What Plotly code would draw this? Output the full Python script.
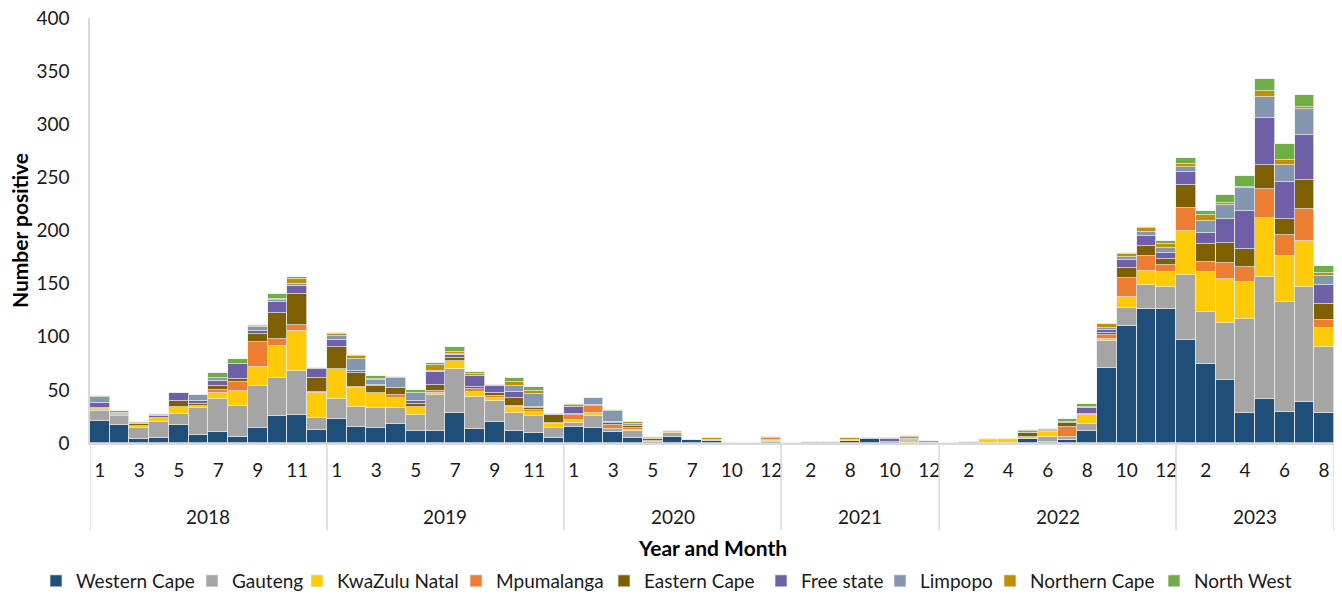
import plotly.graph_objects as go

# ---------------- data ----------------
years = ["2018", "2019", "2020", "2021", "2022", "2023"]
months_2018 = [1, 2, 3, 4, 5, 6, 7, 8, 9, 10, 11, 12]
months_2019 = [1, 2, 3, 4, 5, 6, 7, 8, 9, 10, 11, 12]
months_2020 = [1, 2, 3, 4, 5, 6, 7, 8, 10, 11, 12]
months_2021 = [1, 2, 3, 8, 9, 10, 11, 12]
months_2022 = [1, 2, 3, 4, 5, 6, 7, 8, 9, 10, 11, 12]
months_2023 = [1, 2, 3, 4, 5, 6, 7, 8]
months_by_year = [months_2018, months_2019, months_2020, months_2021, months_2022, months_2023]

western_cape = [21, 17, 4, 5, 17, 8, 10, 6, 14, 25, 26, 12,
                23, 15, 14, 18, 11, 11, 28, 13, 20, 11, 9, 5,
                15, 14, 10, 5, 1, 6, 3, 2, 0, 0, 1,
                0, 0, 0, 2, 4, 1, 0, 0,
                0, 0, 0, 0, 4, 1, 3, 11, 71, 110, 126, 126,
                97, 74, 59, 28, 41, 29, 39, 28]
gauteng = [9, 8, 10, 15, 10, 25, 31, 29, 40, 36, 42, 12,
           18, 19, 19, 15, 15, 34, 42, 30, 20, 17, 16, 9,
           4, 11, 3, 6, 1, 3, 0, 1, 0, 0, 1,
           0, 0, 0, 0, 0, 0, 0, 2,
           0, 0, 0, 0, 0, 5, 3, 7, 25, 17, 23, 21,
           61, 49, 54, 89, 115, 104, 108, 62]
kwazulu_natal = [2, 0, 2, 4, 7, 2, 6, 14, 18, 30, 37, 23,
                 29, 18, 14, 9, 8, 2, 7, 5, 2, 6, 4, 4,
                 3, 3, 0, 1, 0, 1, 0, 0, 0, 0, 1,
                 0, 0, 0, 1, 0, 0, 2, 0,
                 0, 0, 3, 3, 2, 4, 0, 8, 2, 10, 13, 14,
                 42, 38, 41, 35, 56, 43, 43, 18]
mpumalanga = [1, 1, 0, 0, 0, 0, 3, 8, 23, 7, 6, 1,
              0, 1, 0, 3, 0, 2, 0, 3, 2, 1, 2, 1,
              4, 7, 4, 2, 0, 0, 0, 0, 0, 0, 2,
              0, 0, 0, 0, 0, 0, 0, 0,
              0, 0, 0, 0, 0, 1, 9, 1, 4, 18, 14, 7,
              21, 9, 15, 14, 27, 20, 30, 8]
eastern_cape = [0, 1, 2, 0, 6, 2, 4, 3, 8, 24, 29, 13,
                20, 13, 7, 7, 3, 6, 3, 2, 3, 7, 2, 7,
                1, 1, 2, 2, 2, 0, 0, 0, 0, 0, 0,
                0, 0, 0, 0, 0, 0, 1, 0,
                0, 0, 0, 0, 3, 1, 4, 0, 2, 10, 9, 5,
                22, 17, 19, 17, 23, 15, 28, 15]
free_state = [5, 1, 0, 1, 7, 3, 4, 14, 2, 11, 8, 9,
              7, 2, 1, 0, 3, 12, 3, 10, 7, 6, 1, 0,
              7, 0, 1, 0, 0, 1, 0, 0, 0, 0, 0,
              0, 0, 0, 0, 0, 3, 1, 0,
              0, 0, 0, 1, 0, 1, 1, 6, 2, 7, 10, 6,
              12, 11, 23, 35, 44, 35, 42, 18]
limpopo = [5, 2, 1, 1, 0, 5, 3, 0, 4, 2, 2, 1,
           4, 11, 4, 9, 7, 1, 1, 0, 1, 6, 12, 1,
           0, 6, 10, 2, 0, 0, 0, 0, 0, 0, 0,
           0, 1, 1, 0, 1, 1, 2, 0,
           0, 1, 1, 0, 2, 0, 0, 1, 2, 3, 4, 5,
           5, 11, 13, 22, 20, 16, 24, 8]
northern_cape = [0, 0, 0, 0, 0, 0, 0, 0, 1, 1, 4, 0,
                 2, 3, 1, 0, 0, 5, 2, 2, 0, 3, 3, 0,
                 2, 0, 0, 2, 1, 0, 0, 2, 0, 0, 1,
                 0, 0, 0, 2, 0, 0, 1, 0,
                 0, 0, 0, 0, 0, 0, 0, 0, 4, 3, 3, 3,
                 3, 6, 2, 1, 5, 4, 2, 3]
north_west = [1, 0, 1, 1, 0, 0, 5, 5, 1, 4, 2, 0,
              1, 1, 3, 1, 3, 2, 4, 2, 0, 4, 4, 0,
              1, 0, 1, 0, 1, 0, 0, 0, 0, 0, 0,
              0, 0, 0, 0, 0, 0, 0, 0,
              0, 0, 0, 0, 1, 0, 3, 3, 0, 1, 1, 3,
              5, 3, 7, 10, 12, 15, 12, 7]

series_names = ["Western Cape", "Gauteng", "KwaZulu Natal", "Mpumalanga", "Eastern Cape",
                "Free state", "Limpopo", "Northern Cape", "North West"]
series_values = [western_cape, gauteng, kwazulu_natal, mpumalanga, eastern_cape,
                 free_state, limpopo, northern_cape, north_west]

# ---------------- style ----------------
series_colors = ["#1F4E79", "#A5A5A5", "#FFCA08", "#ED7D31", "#7F6000",
                 "#6F5FA6", "#8497B0", "#BF9000", "#70AD47"]
legend_entry_px = [111, 60, 114, 103, 112, 74, 65, 119, 98]   # per-entry legend widths
FONT = "Lato, 'Open Sans', sans-serif"
TXT = "#1a1a1a"

# ---------------- build ----------------
month_labels = [m for ms in months_by_year for m in ms]
positions = list(range(len(month_labels)))

fig = go.Figure()
for name, vals, col, lw in zip(series_names, series_values, series_colors, legend_entry_px):
    fig.add_trace(go.Bar(
        x=positions, y=vals, name=name, legendwidth=lw,
        marker=dict(color=col, line=dict(color="rgba(235,235,235,0.9)", width=0.8)),
    ))

shapes = []
annotations = []
start = 0
sep_bottom = -0.205
for yr, ms in zip(years, months_by_year):
    end = start + len(ms) - 1
    annotations.append(dict(x=(start + end) / 2, y=-0.174, xref="x", yref="paper",
                            text=yr, showarrow=False, font=dict(size=19, color=TXT, family=FONT),
                            yanchor="middle"))
    shapes.append(dict(type="line", xref="x", yref="paper", x0=start - 0.5, x1=start - 0.5,
                       y0=0, y1=sep_bottom, line=dict(color="#D9D9D9", width=1.5)))
    start = end + 1
shapes.append(dict(type="line", xref="x", yref="paper", x0=start - 0.5, x1=start - 0.5,
                   y0=0, y1=sep_bottom, line=dict(color="#D9D9D9", width=1.5)))
annotations.append(dict(x=0.5, y=-0.247, xref="paper", yref="paper", text="<b>Year and Month</b>",
                        showarrow=False, font=dict(size=21, color="#000", family=FONT),
                        yanchor="middle"))

fig.update_layout(
    barmode="stack",
    bargap=0,
    width=1342, height=596,
    margin=dict(l=90, r=8, t=18, b=153, autoexpand=False),
    plot_bgcolor="white", paper_bgcolor="white",
    font=dict(family=FONT, size=19, color=TXT),
    shapes=shapes,
    annotations=annotations,
    legend=dict(orientation="h", x=-0.0434, xanchor="left", y=-0.3247, yanchor="middle",
                font=dict(size=19, family=FONT, color=TXT), traceorder="normal",
                itemwidth=30, bgcolor="rgba(0,0,0,0)"),
    showlegend=True,
)
fig.update_xaxes(
    range=[-0.5, len(positions) - 0.5],
    tickmode="array", tickvals=positions[::2], ticktext=[str(m) for m in month_labels[::2]],
    showgrid=False, zeroline=False, showline=True, linecolor="#D9D9D9", linewidth=1.5,
    ticks="", ticklabelstandoff=9, tickfont=dict(size=19, family=FONT, color=TXT),
    fixedrange=True, automargin=False,
)
fig.update_yaxes(
    range=[0, 400], dtick=50, showgrid=False, zeroline=False,
    showline=True, linecolor="#D9D9D9", linewidth=1.5,
    ticks="", ticklabelstandoff=15, tickfont=dict(size=19, family=FONT, color=TXT),
    title=dict(text="<b>Number positive</b>", font=dict(size=21, family=FONT, color="#000"), standoff=2),
    automargin=False,
)

fig.write_html("out.html", config={"displayModeBar": False},
               post_script="document.body.style.margin='0';")
